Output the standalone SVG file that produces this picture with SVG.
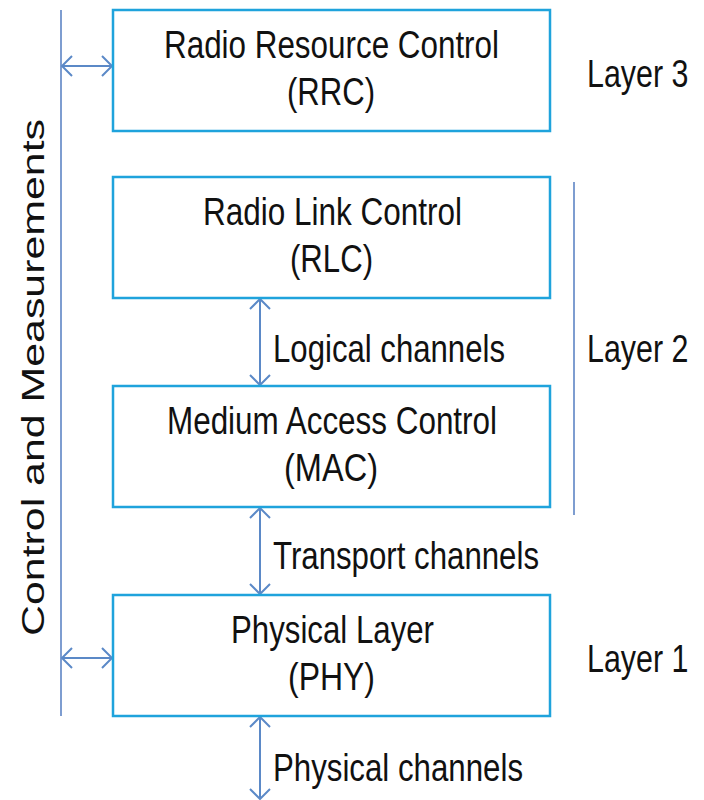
<svg xmlns="http://www.w3.org/2000/svg" width="704" height="800" viewBox="0 0 704 800">
<style>
.box{fill:#fff;stroke:#1fa3dc;stroke-width:2.5}
.t{font-family:"Liberation Sans",Arial,sans-serif;font-size:38px;fill:#111}
.arr{stroke:#5b89c7;stroke-width:2;fill:none;marker-start:url(#ah);marker-end:url(#ah)}
.ln{stroke:#7e9dd0;stroke-width:2;fill:none}
</style>
<defs>
<marker id="ah" viewBox="-12 -11 14 22" markerWidth="14" markerHeight="22" refX="0" refY="0" orient="auto-start-reverse" markerUnits="userSpaceOnUse">
<path d="M-10,-10 L0,0 L-10,10" fill="none" stroke="#5b89c7" stroke-width="2"/>
</marker>
</defs>
<rect width="704" height="800" fill="#fff"/>
<g id="connectors">
<line class="ln" x1="61" y1="10" x2="61" y2="716"/>
<line class="ln" x1="574" y1="182" x2="574" y2="515"/>
<line class="arr" x1="62" y1="66" x2="112" y2="66"/>
<line class="arr" x1="62" y1="658" x2="112" y2="658"/>
<line class="arr" x1="260" y1="299" x2="260" y2="385"/>
<line class="arr" x1="260" y1="508" x2="260" y2="594"/>
<line class="arr" x1="260" y1="717" x2="260" y2="799"/>
</g>
<g id="rrc">
<rect class="box" x="113" y="10" width="437" height="121"/>
<text class="t" x="164" y="58" textLength="335" lengthAdjust="spacingAndGlyphs">Radio Resource Control</text>
<text class="t" x="287" y="105" textLength="88" lengthAdjust="spacingAndGlyphs">(RRC)</text>
</g>
<g id="rlc">
<rect class="box" x="113" y="177" width="437" height="121"/>
<text class="t" x="203" y="225" textLength="259" lengthAdjust="spacingAndGlyphs">Radio Link Control</text>
<text class="t" x="290" y="272" textLength="83" lengthAdjust="spacingAndGlyphs">(RLC)</text>
</g>
<g id="mac">
<rect class="box" x="113" y="386" width="437" height="121"/>
<text class="t" x="167" y="434" textLength="330" lengthAdjust="spacingAndGlyphs">Medium Access Control</text>
<text class="t" x="284" y="481" textLength="94" lengthAdjust="spacingAndGlyphs">(MAC)</text>
</g>
<g id="phy">
<rect class="box" x="113" y="595" width="437" height="121"/>
<text class="t" x="231" y="643" textLength="203" lengthAdjust="spacingAndGlyphs">Physical Layer</text>
<text class="t" x="288" y="690" textLength="87" lengthAdjust="spacingAndGlyphs">(PHY)</text>
</g>
<g id="labels">
<text class="t" x="273" y="362" textLength="232" lengthAdjust="spacingAndGlyphs">Logical channels</text>
<text class="t" x="273" y="569" textLength="266" lengthAdjust="spacingAndGlyphs">Transport channels</text>
<text class="t" x="273" y="781" textLength="250" lengthAdjust="spacingAndGlyphs">Physical channels</text>
<text class="t" transform="translate(587,87) scale(0.8,1)">Layer 3</text>
<text class="t" transform="translate(587,362) scale(0.8,1)">Layer 2</text>
<text class="t" transform="translate(587,672) scale(0.8,1)">Layer 1</text>
<text class="t" style="font-size:31px" transform="translate(44,636) rotate(-90)" x="0" y="0" textLength="517" lengthAdjust="spacingAndGlyphs">Control and Measurements</text>
</g>
</svg>
